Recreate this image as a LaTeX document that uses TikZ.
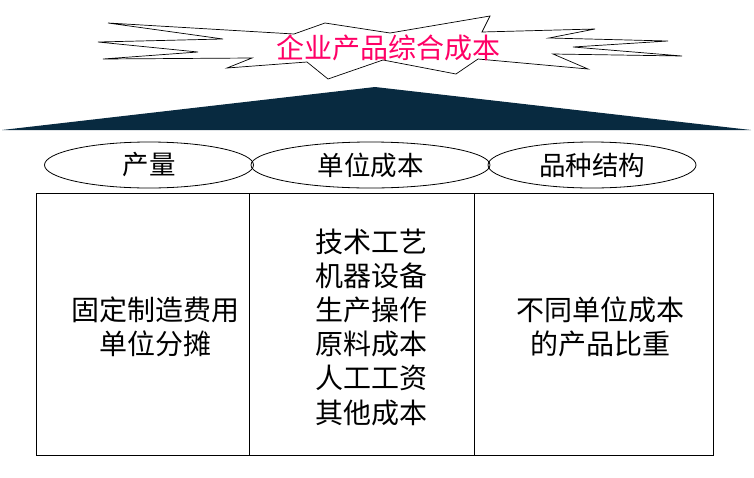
\documentclass[tikz,border=0pt]{standalone}
\usepackage{fontspec}
\setmainfont{Noto Sans CJK SC}
\usetikzlibrary{shapes.geometric}
\definecolor{navy}{RGB}{8,42,64}
\definecolor{titlepink}{RGB}{255,0,102}
\begin{document}
\begin{tikzpicture}[x=1pt,y=-1pt,
  oval/.style={draw=black,line width=0.8pt,ellipse,inner sep=0pt,minimum height=46pt,font=\fontsize{26.5}{30}\selectfont},
  col/.style={draw=black,line width=0.8pt,rectangle,inner sep=0pt,minimum height=262pt},
  body/.style={align=center,inner sep=0pt,font=\fontsize{28}{34.2}\selectfont}]
\useasboundingbox (0,0) rectangle (754,477);
% base triangle
\fill[navy] (2,130) -- (375,87) -- (751,130) -- cycle;
% starburst
\draw[fill=white,line width=0.7pt,line join=miter]
  (108,23) -- (223,39) -- (98,42) -- (198,52) -- (103,59) -- (252,58) -- (227,68)
  -- (307,62) -- (328,79) -- (383,60) -- (456,74) -- (478,59) -- (588,69) -- (553,54)
  -- (682,56) -- (573,47) -- (668,41) -- (549,38) -- (595,29) -- (482,32) -- (490,16)
  -- (390,33) -- (325,23) -- (294,34) -- cycle;
\node[text=titlepink,inner sep=0pt,font=\fontsize{28}{30}\selectfont] (title) at (388,48) {企业产品综合成本};
% ellipses
\node[oval,minimum width=209pt] (e1) at (149,165) {产量};
\node[oval,minimum width=239pt] (e2) at (370.5,165) {单位成本};
\node[oval,minimum width=208pt] (e3) at (592,165) {品种结构};
% columns
\node[col,minimum width=213pt] (c1) at (142.5,324) {};
\node[col,minimum width=225pt] (c2) at (361.5,324) {};
\node[col,minimum width=239pt] (c3) at (593.5,324) {};
% texts
\node[body] (t1) at (155.5,327) {固定制造费用\\单位分摊};
\node[body] (t2) at (371,327) {技术工艺\\机器设备\\生产操作\\原料成本\\人工工资\\其他成本};
\node[body] (t3) at (600,327) {不同单位成本\\的产品比重};
\end{tikzpicture}
\end{document}
